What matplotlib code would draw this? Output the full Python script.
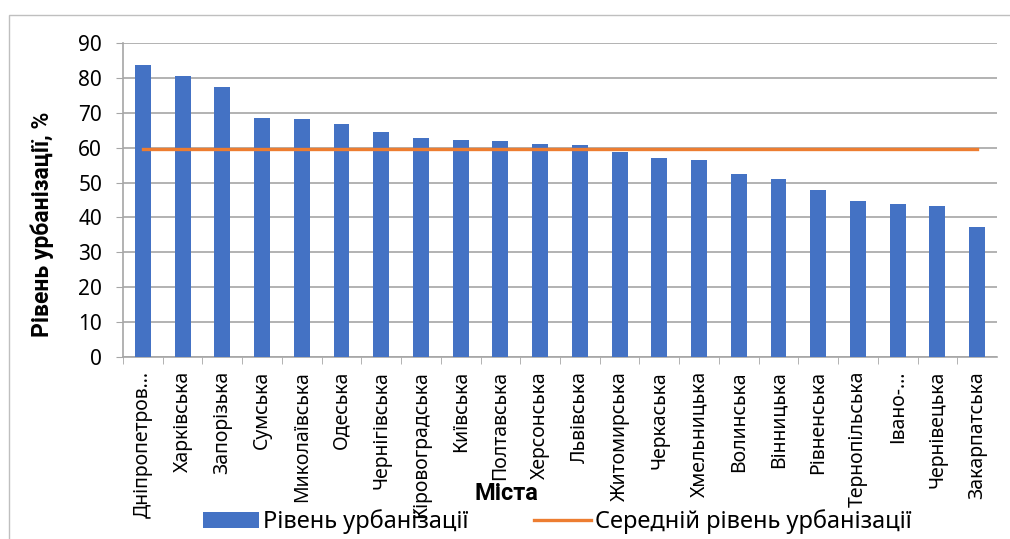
import matplotlib
matplotlib.use("Agg")
import matplotlib.pyplot as plt
from matplotlib.patches import Rectangle

regions = ["Дніпропетров...", "Харківська", "Запорізька", "Сумська", "Миколаївська",
           "Одеська", "Чернігівська", "Кіровоградська", "Київська", "Полтавська",
           "Херсонська", "Львівська", "Житомирська", "Черкаська", "Хмельницька",
           "Волинська", "Вінницька", "Рівненська", "Тернопільська", "Івано-...",
           "Чернівецька", "Закарпатська"]
urban_level = [83.7, 80.6, 77.3, 68.6, 68.2, 66.8, 64.6, 62.8, 62.2, 62.0, 61.1,
               60.9, 58.9, 56.9, 56.5, 52.5, 50.9, 47.8, 44.8, 43.9, 43.2, 37.2]
mean_level = 59.6
y_ticks = [0, 10, 20, 30, 40, 50, 60, 70, 80, 90]

plt.rcParams['font.family'] = ['Noto Sans', 'DejaVu Sans']
plt.rcParams['font.size'] = 15
bold_font = ['Roboto', 'Open Sans', 'DejaVu Sans']

fig = plt.figure(figsize=(10.1, 5.39), dpi=100)
fig.patches.append(Rectangle((9 / 1010, -0.1), 1.2, 1 - 15 / 539 + 0.1,
                             transform=fig.transFigure, fill=False,
                             edgecolor='#bfbfbf', lw=1.0))
ax = fig.add_axes([123 / 1010, 1 - 357 / 539, 874 / 1010, 314 / 539])

x = list(range(len(regions)))
bars = ax.bar(x, urban_level, width=0.4, color='#4472C4', zorder=3,
              label='Рівень урбанізації')
line, = ax.plot(x, [mean_level] * len(x), color='#ED7D31', lw=2.4, zorder=4,
                label='Середній рівень урбанізації')

ax.set_xlim(-0.5, len(regions) - 0.5)
ax.set_ylim(0, 90)
ax.set_yticks(y_ticks)
ax.set_xticks(x)
ax.set_xticklabels(regions, rotation=90, va='top', ha='center', fontsize=14)
ax.set_xticks([i + 0.5 for i in x[:-1]] + [-0.5], minor=True)
ax.tick_params(axis='x', which='major', length=0, pad=10)
ax.tick_params(axis='x', which='minor', length=5, color='#a6a6a6')
ax.tick_params(axis='y', length=5, color='#a6a6a6', pad=10)

ax.grid(axis='y', color='#a6a6a6', lw=1.2, zorder=0)
for s in ['top', 'right']:
    ax.spines[s].set_visible(False)
for s in ['left', 'bottom']:
    ax.spines[s].set_color('#a6a6a6')
    ax.spines[s].set_linewidth(1.2)

fig.text(42 / 1010, 1 - 224 / 539, 'Рівень урбанізації, %', rotation=90,
         fontweight='bold', family=bold_font, fontsize=16.5, ha='center', va='center')
fig.text(506 / 1010, 1 - 493 / 539, 'Міста', fontweight='bold', family=bold_font,
         fontsize=17, ha='center', va='center')

fig.legend(handles=[bars, line], loc='center', bbox_to_anchor=(557 / 1010, 1 - 522 / 539),
           ncol=2, frameon=False, handlelength=2.4, handleheight=0.7,
           columnspacing=2.8, handletextpad=0.15, borderpad=0, fontsize=17)

fig.savefig('out.png', dpi=100)
